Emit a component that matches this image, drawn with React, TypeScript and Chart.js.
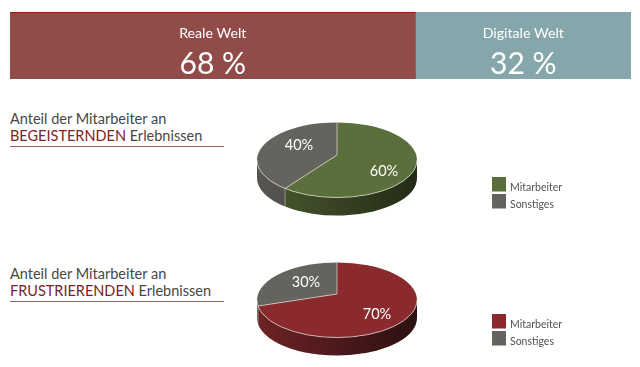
import React, { useEffect, useRef } from "react";
import { Chart, registerables } from "chart.js";

Chart.register(...registerables);

const FONT = "Lato, 'Open Sans', sans-serif";

// Top band
const worldNames = ["Reale Welt", "Digitale Welt"];
const worldLabels = ["68 %", "32 %"];
const worldBandWidths = [65.3, 34.7]; // widths as drawn in the picture
const worldColors = ["#914c49", "#85a6aa"];

// Pies
const pieCategories = ["Mitarbeiter", "Sonstiges"];
const enthusiasticValues = [60, 40];
const frustratingValues = [70, 30];
const enthusiasticColors = ["#5a6f3b", "#65635d"];
const frustratingColors = ["#8a2a2e", "#65635d"];

function BandChart() {
  const ref = useRef<HTMLCanvasElement>(null);
  useEffect(() => {
    const bandLabels = {
      id: "bandLabels",
      afterDatasetsDraw(chart: any) {
        const { ctx } = chart;
        ctx.save();
        ctx.textAlign = "center";
        ctx.textBaseline = "middle";
        ctx.fillStyle = "#ffffff";
        chart.data.datasets.forEach((_: any, i: number) => {
          const bar = chart.getDatasetMeta(i).data[0];
          const mid = (bar.x + bar.base) / 2;
          ctx.font = `14.2px ${FONT}`;
          ctx.fillText(worldNames[i], mid, 21);
          ctx.font = `30px ${FONT}`;
          ctx.fillText(worldLabels[i], mid, 52);
        });
        ctx.fillStyle = "#8c1f14";
        ctx.fillRect(chart.getDatasetMeta(0).data[0].base, 0, chart.getDatasetMeta(0).data[0].x, 1);
        ctx.restore();
      },
    };
    const chart = new Chart(ref.current!, {
      type: "bar",
      data: {
        labels: ["Welt"],
        datasets: worldBandWidths.map((v, i) => ({
          label: worldNames[i],
          data: [v],
          backgroundColor: worldColors[i],
          barPercentage: 1,
          categoryPercentage: 1,
          borderWidth: 0,
        })),
      },
      options: {
        indexAxis: "y",
        animation: false,
        responsive: false,
        layout: { padding: 0 },
        plugins: { legend: { display: false }, tooltip: { enabled: false } },
        scales: {
          x: { display: false, stacked: true, min: 0, max: 100 },
          y: { display: false, stacked: true },
        },
      },
      plugins: [bandLabels],
    } as any);
    return () => chart.destroy();
  }, []);
  return (
    <canvas
      ref={ref}
      width={621}
      height={67}
      style={{ position: "absolute", left: 10, top: 12, width: 621, height: 67 }}
    />
  );
}

type PieProps = {
  top: number;
  values: number[];
  colors: string[];
  sideColors: [string, string][];
  apexLift: number;
  labelSpots: [number, number][];
  legendTop: number;
};

const PIE_LEFT = 257;
const SQUASH = 37.5 / 80;
const DEPTH = 18;

// Perspective: slices meet at a point above the ellipse's centre, so a slice
// angle is carried along the ray from that point to where it meets the rim.
function rimAngle(t: number, rx: number, ry: number, lift: number) {
  const dx = Math.cos(t);
  const dy = Math.sin(t);
  const a = dx * dx + dy * dy;
  const b = (-2 * lift * dy) / ry;
  const c = (lift * lift) / (ry * ry) - 1;
  const s = (-b + Math.sqrt(b * b - 4 * a * c)) / (2 * a);
  let w = Math.atan2((-lift + s * dy * ry) / ry, (s * dx * rx) / rx);
  while (w < t - Math.PI) w += Math.PI * 2;
  return w;
}

function Pie3D({ top, values, colors, sideColors, apexLift, labelSpots, legendTop }: PieProps) {
  const ref = useRef<HTMLCanvasElement>(null);
  useEffect(() => {
    const tilted = {
      id: "tilted",
      beforeDatasetsDraw(chart: any) {
        const { ctx } = chart;
        const arcs = chart.getDatasetMeta(0).data;
        const cx = arcs[0].x;
        const cy = arcs[0].y;
        const rx = arcs[0].outerRadius;
        const ry = rx * SQUASH;
        const rim = "rgba(235,232,222,0.8)";
        const spans = arcs.map((arc: any) => [
          rimAngle(arc.startAngle, rx, ry, apexLift),
          rimAngle(arc.endAngle, rx, ry, apexLift),
        ]);

        ctx.save();
        // side wall: only the front half of the ellipse shows
        spans.forEach(([s, e]: number[], i: number) => {
          const a0 = Math.max(s, 0);
          const a1 = Math.min(e, Math.PI);
          if (a1 <= a0) return;
          const grad = ctx.createLinearGradient(cx - rx, 0, cx + rx, 0);
          grad.addColorStop(0, sideColors[i][0]);
          grad.addColorStop(1, sideColors[i][1]);
          ctx.beginPath();
          ctx.ellipse(cx, cy, rx, ry, 0, a0, a1);
          ctx.ellipse(cx, cy + DEPTH, rx, ry, 0, a1, a0, true);
          ctx.closePath();
          ctx.fillStyle = grad;
          ctx.fill();
        });
        // seam between side walls
        spans.forEach(([, e]: number[]) => {
          if (e <= 0 || e >= Math.PI) return;
          const x = cx + rx * Math.cos(e);
          const y = cy + ry * Math.sin(e);
          ctx.beginPath();
          ctx.moveTo(x, y);
          ctx.lineTo(x, y + DEPTH);
          ctx.strokeStyle = "rgba(235,232,222,0.4)";
          ctx.lineWidth = 1;
          ctx.stroke();
        });
        // top faces
        spans.forEach(([s, e]: number[], i: number) => {
          ctx.beginPath();
          ctx.moveTo(cx, cy - apexLift);
          ctx.ellipse(cx, cy, rx, ry, 0, s, e);
          ctx.closePath();
          ctx.fillStyle = colors[i];
          ctx.fill();
        });
        // pale slice edges and front rim
        ctx.strokeStyle = rim;
        ctx.lineWidth = 0.8;
        spans.forEach(([s]: number[]) => {
          ctx.beginPath();
          ctx.moveTo(cx, cy - apexLift);
          ctx.lineTo(cx + rx * Math.cos(s), cy + ry * Math.sin(s));
          ctx.stroke();
        });
        ctx.beginPath();
        ctx.ellipse(cx, cy, rx, ry, 0, 0, Math.PI);
        ctx.stroke();
        // slice labels
        ctx.fillStyle = "#ffffff";
        ctx.font = `14.5px ${FONT}`;
        ctx.textAlign = "center";
        ctx.textBaseline = "middle";
        values.forEach((v, i) => {
          ctx.fillText(`${v}%`, cx + labelSpots[i][0], cy + labelSpots[i][1]);
        });
        // legend
        const legendX = 492 - PIE_LEFT;
        ctx.textAlign = "left";
        ctx.font = `10.5px ${FONT}`;
        chart.data.labels.forEach((name: string, i: number) => {
          const y = legendTop - top + i * 17;
          ctx.fillStyle = colors[i];
          ctx.fillRect(legendX, y, 14, 14.5);
          ctx.fillStyle = "#55524e";
          ctx.fillText(name, legendX + 18, y + 11);
        });
        ctx.restore();
        return false;
      },
    };
    const chart = new Chart(ref.current!, {
      type: "pie",
      data: {
        labels: pieCategories,
        datasets: [{ data: values, backgroundColor: colors, borderWidth: 0 }],
      },
      options: {
        animation: false,
        responsive: false,
        layout: { padding: { right: 163 } },
        plugins: { legend: { display: false }, tooltip: { enabled: false } },
      },
      plugins: [tilted],
    } as any);
    return () => chart.destroy();
  }, []);
  return (
    <canvas
      ref={ref}
      width={323}
      height={160}
      style={{ position: "absolute", left: PIE_LEFT, top, width: 323, height: 160 }}
    />
  );
}

function Caption({ top, word }: { top: number; word: string }) {
  const line: React.CSSProperties = {
    position: "absolute",
    left: 10,
    whiteSpace: "nowrap",
    fontFamily: FONT,
    fontSize: 14.5,
    lineHeight: "18px",
    color: "#4a4745",
  };
  return (
    <>
      <div style={{ ...line, top }}>Anteil der Mitarbeiter an</div>
      <div style={{ ...line, top: top + 17 }}>
        <span style={{ color: "#7d2326" }}>{word}</span> Erlebnissen
      </div>
      <div
        style={{
          position: "absolute",
          left: 10,
          top: top + 36,
          width: 214,
          height: 1,
          background: "#a4605f",
        }}
      />
    </>
  );
}

export default function App() {
  return (
    <div
      style={{
        position: "absolute",
        left: 0,
        top: 0,
        width: 640,
        height: 367,
        overflow: "hidden",
        background: "#fff",
      }}
    >
      <BandChart />
      <Caption top={110} word="BEGEISTERNDEN" />
      <Caption top={265} word="FRUSTRIERENDEN" />
      <Pie3D
        top={80}
        values={enthusiasticValues}
        colors={enthusiasticColors}
        sideColors={[
          ["#4b5a30", "#232b16"],
          ["#565451", "#4a4846"],
        ]}
        apexLift={5}
        labelSpots={[
          [47, 11],
          [-38, -15],
        ]}
        legendTop={177}
      />
      <Pie3D
        top={220}
        values={frustratingValues}
        colors={frustratingColors}
        sideColors={[
          ["#6e2226", "#2c1011"],
          ["#565451", "#4a4846"],
        ]}
        apexLift={6}
        labelSpots={[
          [40, 14],
          [-31, -18],
        ]}
        legendTop={314}
      />
    </div>
  );
}
